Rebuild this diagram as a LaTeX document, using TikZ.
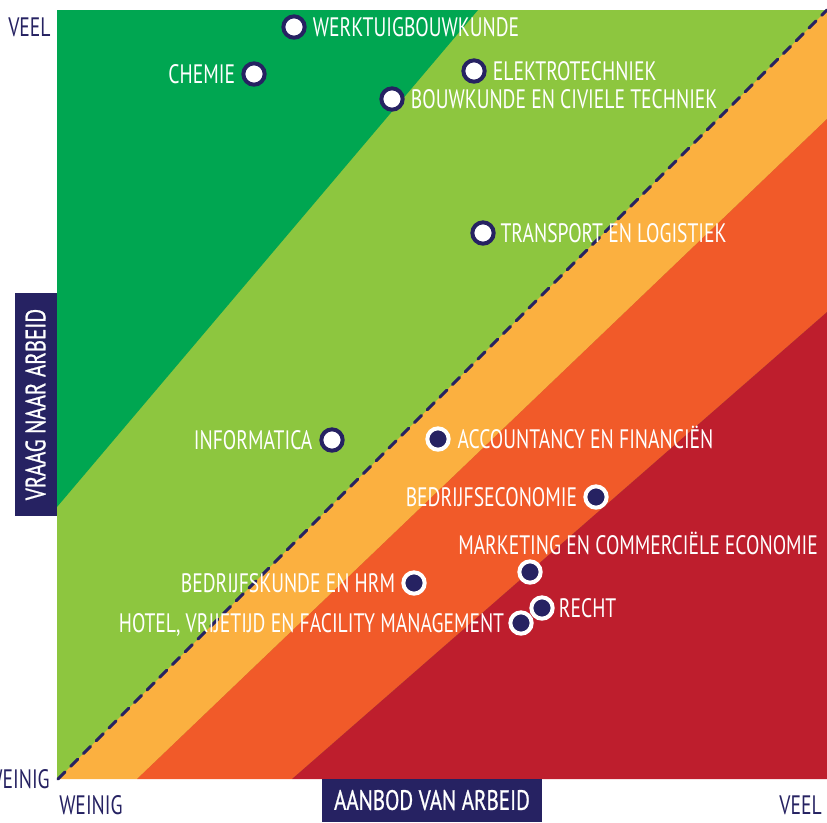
\documentclass[tikz,border=0pt]{standalone}
\usepackage{fontspec}
\setmainfont{PT Sans}[FakeStretch=0.735]
\newfontfamily\boxfont{PT Sans}[FakeStretch=0.75, FakeBold=0.8]
\usetikzlibrary{positioning}
\definecolor{dkgreen}{HTML}{00A651}
\definecolor{ltgreen}{HTML}{8DC63F}
\definecolor{amber}{HTML}{FBB040}
\definecolor{orng}{HTML}{F15A29}
\definecolor{crim}{HTML}{BE1E2D}
\definecolor{navy}{HTML}{262262}
\begin{document}
\begin{tikzpicture}[x=0.75pt,y=-0.75pt,
  lbl/.style={text=white, font=\fontsize{20}{20}\selectfont, inner sep=0pt, text height=14pt, text depth=0pt},
  axl/.style={lbl, text=navy},
  hidot/.style={circle, draw=navy, fill=white, line width=3pt, minimum size=16pt, inner sep=0pt},
  lodot/.style={circle, draw=white, fill=navy, line width=3pt, minimum size=16pt, inner sep=0pt},
  axbox/.style={lbl, fill=navy, text=white, font=\boxfont\fontsize{21}{21}\selectfont},
  diag/.style={draw=navy, line width=2.3pt, dash pattern=on 7.5pt off 6pt, line cap=round}
]
\useasboundingbox (0,0) rectangle (827,822);
\fill[white] (0,0) rectangle (827,822);
% zones
\fill[ltgreen] (57,10) rectangle (827,779);
\fill[dkgreen] (57,10) -- (478,10) -- (57,507) -- cycle;
\fill[amber] (58,779) -- (827,10) -- (827,119) -- (137,779) -- cycle;
\fill[orng] (137,779) -- (827,119) -- (827,312) -- (292,779) -- cycle;
\fill[crim] (292,779) -- (827,312) -- (827,779) -- cycle;
% diagonal
\coordinate (orig) at (58,779);
\coordinate (tr) at (827,10);
\draw[diag] (orig) -- (tr);
% axes
\node[axl, anchor=west] (yveel) at (8,27) {VEEL};
\node[axl, anchor=east] (yweinig) at (50,779) {WEINIG};
\node[axl, anchor=west] (xweinig) at (59,805) {WEINIG};
\node[axl, anchor=east] (xveel) at (822,805) {VEEL};
\node[axbox, minimum width=165pt, minimum height=32.25pt] (xbox) at (432,800.5) {AANBOD VAN ARBEID};
\node[axbox, minimum width=167pt, minimum height=31.5pt, rotate=90] (ybox) at (36,404.5) {VRAAG NAAR ARBEID};
% upper dots
\node[hidot] (dWerk) at (294,27) {};
\node[lbl, right=4.5pt of dWerk] (tWerk) {WERKTUIGBOUWKUNDE};
\node[hidot] (dChem) at (254,74) {};
\node[lbl, left=4.5pt of dChem] (tChem) {CHEMIE};
\node[hidot] (dElek) at (474,71) {};
\node[lbl, right=4.5pt of dElek] (tElek) {ELEKTROTECHNIEK};
\node[hidot] (dBouw) at (392,99) {};
\node[lbl, right=4.5pt of dBouw] (tBouw) {BOUWKUNDE EN CIVIELE TECHNIEK};
\node[hidot] (dTrans) at (483,233) {};
\node[lbl, right=3.5pt of dTrans] (tTrans) {TRANSPORT EN LOGISTIEK};
\node[hidot] (dInfo) at (332,440) {};
\node[lbl, left=5pt of dInfo] (tInfo) {INFORMATICA};
% lower dots
\node[lodot] (dAcc) at (438,439) {};
\node[lbl, right=5pt of dAcc] (tAcc) {ACCOUNTANCY EN FINANCIËN};
\node[lodot] (dBec) at (596,497) {};
\node[lbl, left=4.5pt of dBec] (tBec) {BEDRIJFSECONOMIE};
\node[lodot] (dMark) at (530,572) {};
\node[lbl, anchor=west] (tMark) at (458,545) {MARKETING EN COMMERCIËLE ECONOMIE};
\node[lodot] (dHrm) at (414,583) {};
\node[lbl, left=4.5pt of dHrm] (tHrm) {BEDRIJFSKUNDE EN HRM};
\node[lodot] (dHotel) at (521,623) {};
\node[lbl, left=3pt of dHotel] (tHotel) {HOTEL, VRIJETIJD EN FACILITY MANAGEMENT};
\node[lodot] (dRecht) at (542,608) {};
\node[lbl, right=3pt of dRecht] (tRecht) {RECHT};
\end{tikzpicture}
\end{document}
